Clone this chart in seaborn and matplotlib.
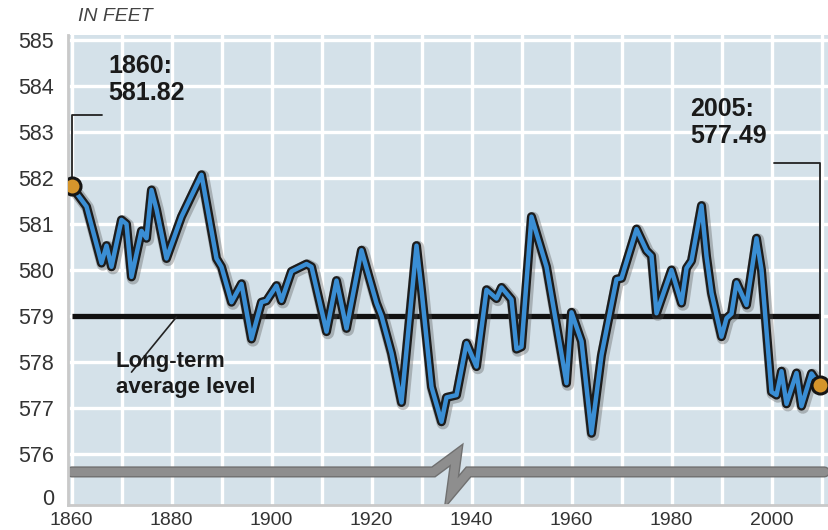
import matplotlib
matplotlib.use('Agg')
import matplotlib.pyplot as plt
import matplotlib.patheffects as pe
from matplotlib import font_manager
import seaborn as sns

# Lake level, in feet
years = [1860, 1863, 1866, 1867, 1868, 1870, 1871, 1872, 1874, 1875, 1876, 1877, 1879, 1882, 1886,
         1889, 1890, 1892, 1894, 1896, 1898, 1899, 1901, 1902, 1904, 1907, 1908, 1911, 1913, 1915,
         1918, 1921, 1922, 1924, 1926, 1929, 1930, 1932, 1934, 1935, 1937, 1939, 1941, 1943, 1945,
         1946, 1948, 1949, 1950, 1952, 1955, 1959, 1960, 1962, 1964, 1966, 1969, 1970, 1973, 1975,
         1976, 1977, 1980, 1982, 1983, 1984, 1986, 1987, 1988, 1990, 1991, 1992, 1993, 1995, 1997,
         1998, 2000, 2001, 2002, 2003, 2005, 2006, 2008, 2009.6]
levels = [581.82, 581.38, 580.15, 580.53, 580.07, 581.09, 581.0, 579.85, 580.85, 580.69, 581.74, 581.32, 580.25, 581.16, 582.07,
          580.25, 580.07, 579.3, 579.7, 578.5, 579.3, 579.33, 579.66, 579.33, 579.97, 580.13, 580.07, 578.66, 579.77, 578.73,
          580.43, 579.28, 579.0, 578.19, 577.12, 580.53, 579.57, 577.46, 576.70, 577.23, 577.28, 578.41, 577.9, 579.57, 579.38,
          579.62, 579.36, 578.28, 578.33, 581.16, 580.07, 577.54, 579.08, 578.45, 576.45, 578.15, 579.8, 579.82, 580.89, 580.42,
          580.31, 579.06, 580.0, 579.28, 580.04, 580.2, 581.4, 580.3, 579.5, 578.55, 578.95, 579.05, 579.73, 579.24, 580.69,
          580.0, 577.35, 577.28, 577.8, 577.09, 577.76, 577.04, 577.75, 577.49]
avg_level = 579.0

ytick_vals = [576, 577, 578, 579, 580, 581, 582, 583, 584, 585]
ytick_labels = [str(v) for v in ytick_vals]
xtick_vals = [1860, 1880, 1900, 1920, 1940, 1960, 1980, 2000]

# the axis is broken below 576: "0" sits just under the break
zero_pos = 575.07
break_y = 575.61

sns.set_style('white', rc={'axes.facecolor': '#d4e1e9'})
names = {f.name for f in font_manager.fontManager.ttflist}
narrow = 'Liberation Sans Narrow' if 'Liberation Sans Narrow' in names else 'Liberation Sans'
plt.rcParams['font.family'] = ['Liberation Sans', 'DejaVu Sans']

fig = plt.figure(figsize=(8.29, 5.30), dpi=100)
ax = fig.add_axes([68 / 829, 25 / 530, 761 / 829, 470 / 530])
ax.set_xlim(1859.3, 2011.5)
ax.set_ylim(574.891, 585.109)

# grid
for v in ytick_vals:
    ax.axhline(v, color='white', lw=2.4, zorder=1)
for yr in range(1860, 2011, 10):
    ax.axvline(yr, color='white', lw=2.4, zorder=1)

# broken-axis bar with zigzag
bx = [years[0], 1932.4, 1937.0, 1936.0, 1939.4, 2010.6]
by = [break_y, break_y, 575.98, 575.17, break_y, break_y]
ax.plot(bx, by, color='#8e8e8e', lw=6, solid_joinstyle='miter', zorder=2,
        path_effects=[pe.Stroke(linewidth=8, foreground='#707070'), pe.Normal()])

# long-term average
ax.hlines(avg_level, years[0], years[-1], color='#111111', lw=3.8, zorder=3)

# water level line
sns.lineplot(x=years, y=levels, ax=ax, color='#3a8ed4', lw=3.2, sort=False, estimator=None, zorder=4,
             path_effects=[pe.SimpleLineShadow(offset=(1, -1), shadow_color='#555555', alpha=0.35, linewidth=9),
                           pe.Stroke(linewidth=6.5, foreground='#1c1c1c'), pe.Normal()])

# leaders
ax.plot([years[0], years[0], 1866], [levels[0], 583.37, 583.37], color='#222222', lw=1.3, zorder=3)
ax.plot([years[-1], years[-1], 2000.4], [levels[-1], 582.33, 582.33], color='#222222', lw=1.3, zorder=3)
ax.plot([1872, 1881], [577.78, 578.98], color='#222222', lw=1.2, zorder=3)

sns.scatterplot(x=[years[0], years[-1]], y=[levels[0], levels[-1]], ax=ax, s=150,
                color='#d5952c', edgecolor='#151515', linewidth=2.2, zorder=6)

ax.text(1867.4, 583.70, '1860:\n%.2f' % levels[0], fontsize=18, fontweight='bold',
        color='#1a1a1a', va='baseline', ha='left', linespacing=1.15, zorder=7)
ax.text(1983.8, 582.76, '2005:\n%.2f' % levels[-1], fontsize=18, fontweight='bold',
        color='#1a1a1a', va='baseline', ha='left', linespacing=1.15, zorder=7)
ax.text(1868.8, 577.33, 'Long-term\naverage level', fontsize=16, fontweight='bold',
        color='#1a1a1a', va='baseline', ha='left', linespacing=1.3, zorder=7)
ax.text(0.013, 1.021, 'IN FEET', transform=ax.transAxes, fontsize=14, fontstyle='italic',
        family=narrow, color='#444444', va='bottom', ha='left')

# ticks
ax.set_yticks([zero_pos] + ytick_vals)
ax.set_yticklabels(['0'] + ytick_labels, fontsize=15.5, color='#333333')
ax.set_xticks(xtick_vals)
ax.set_xticklabels([str(v) for v in xtick_vals], fontsize=14, color='#333333', family=narrow)
ax.tick_params(axis='y', length=0, pad=10)
ax.tick_params(axis='x', length=0, pad=5)
ax.grid(False)

for s in ['top', 'right']:
    ax.spines[s].set_visible(False)
for s in ['left', 'bottom']:
    ax.spines[s].set_color('#c9c9c9')
    ax.spines[s].set_linewidth(2)

fig.savefig('out.png', dpi=100)
